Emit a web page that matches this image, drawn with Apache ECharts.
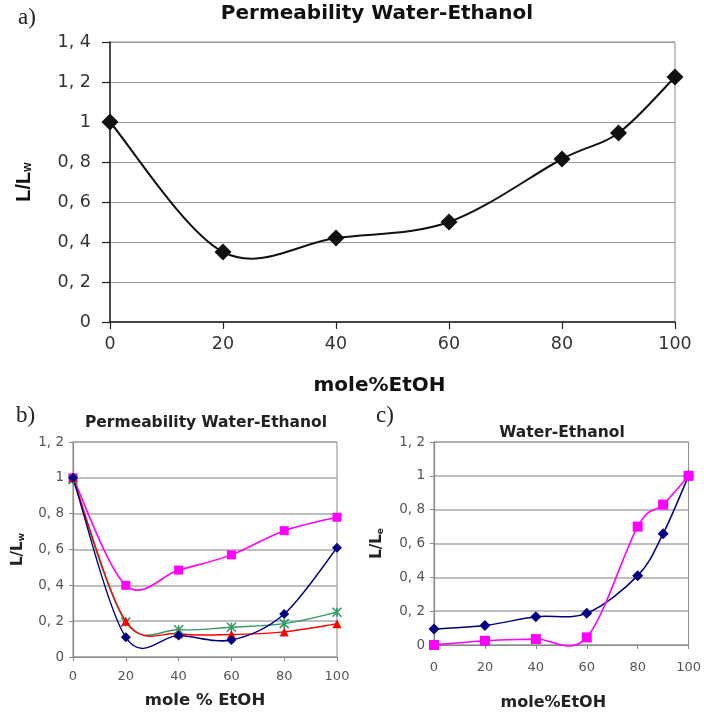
<!DOCTYPE html>
<html>
<head>
<meta charset="utf-8">
<script src="https://cdn.jsdelivr.net/npm/echarts@6/dist/echarts.min.js"></script>
<style>
html,body{margin:0;padding:0;background:#fff;}
#chart{width:704px;height:712px;}
</style>
</head>
<body>
<div id="chart"></div>
<script>
// ---------- data ----------
var xTicks = [0, 20, 40, 60, 80, 100];

// panel a
var aX = [0, 20, 40, 60, 80, 90, 100];
var aY = [1.0, 0.35, 0.42, 0.50, 0.815, 0.945, 1.225];

// panel b
var bX = [0, 20, 40, 60, 80, 100];
var bMagenta = [1.0, 0.40, 0.485, 0.57, 0.705, 0.78];
var bNavy    = [1.0, 0.11, 0.12, 0.095, 0.24, 0.61];
var bRed     = [1.0, 0.20, 0.13, 0.125, 0.14, 0.185];
var bGreen   = [0.99, 0.195, 0.152, 0.166, 0.186, 0.25];

// panel c
var cX = [0, 20, 40, 60, 80, 90, 100];
var cNavy    = [0.095, 0.115, 0.167, 0.188, 0.41, 0.658, 1.0];
var cMagenta = [0.0, 0.025, 0.035, 0.045, 0.70, 0.83, 1.0];

function pairs(xs, ys) { return xs.map(function (x, i) { return [x, ys[i]]; }); }
function fmt(v) {
  if (v === 0) return '0';
  var s = String(Math.round(v * 10) / 10);
  return s.replace('.', ', ');
}

var NAVY = '#000080', MAG = '#ff00ff', RED = '#ff0000', GREEN = '#339966';
var SANS = 'Liberation Sans, Arial, sans-serif';
var DJV = 'DejaVu Sans, Verdana, sans-serif';
var SERIF = 'Liberation Serif, Times New Roman, serif';
var STAR = 'path://M0,0L10,10M10,0L0,10M5,0L5,10';

// smoothed connecting line (Excel-like cardinal spline), each data item draws one segment
function curve(xs, ys, gi, color, width, z) {
  var n = xs.length;
  return {
    type: 'custom', coordinateSystem: 'cartesian2d', xAxisIndex: gi, yAxisIndex: gi,
    data: pairs(xs, ys), encode: {x: 0, y: 1}, silent: true, z: z || 2,
    renderItem: function (params, api) {
      var i = params.dataIndex;
      if (i >= n - 1) return null;
      function P(k) { k = Math.max(0, Math.min(n - 1, k)); return api.coord([xs[k], ys[k]]); }
      var p0 = P(i - 1), p1 = P(i), p2 = P(i + 1), p3 = P(i + 2);
      var t = 1 / 6;
      return {
        type: 'bezierCurve',
        shape: {
          x1: p1[0], y1: p1[1], x2: p2[0], y2: p2[1],
          cpx1: p1[0] + (p2[0] - p0[0]) * t, cpy1: p1[1] + (p2[1] - p0[1]) * t,
          cpx2: p2[0] - (p3[0] - p1[0]) * t, cpy2: p2[1] - (p3[1] - p1[1]) * t
        },
        style: {stroke: color, lineWidth: width, fill: 'none'}
      };
    }
  };
}
function marks(xs, ys, gi, symbol, size, itemStyle, z) {
  itemStyle.opacity = 1;
  return {
    type: 'scatter', xAxisIndex: gi, yAxisIndex: gi, data: pairs(xs, ys),
    symbol: symbol, symbolSize: size, itemStyle: itemStyle, z: z || 5, silent: true
  };
}

var chart = echarts.init(document.getElementById('chart'), null, {renderer: 'canvas'});

var gridBorder = {show: true, borderColor: '#8a8a8a', borderWidth: 1, backgroundColor: 'transparent'};

var option = {
  animation: false,
  backgroundColor: '#ffffff',
  grid: [
    Object.assign({left: 110, top: 42, width: 565, height: 280}, gridBorder),
    Object.assign({left: 73, top: 442, width: 264, height: 215}, gridBorder),
    Object.assign({left: 434, top: 442, width: 258, height: 204}, gridBorder)
  ],
  xAxis: [
    {
      gridIndex: 0, type: 'value', min: 0, max: 100, interval: 20,
      axisLine: {show: true, onZero: false, lineStyle: {color: '#222', width: 1.5}},
      axisTick: {show: true, length: 7, lineStyle: {color: '#222', width: 1.2}},
      axisLabel: {fontFamily: DJV, fontSize: 17.5, color: '#333', margin: 13},
      splitLine: {show: false},
      name: 'mole%EtOH', nameLocation: 'middle', nameGap: 54,
      nameTextStyle: {fontFamily: DJV, fontSize: 20, fontWeight: 'bold', color: '#111', padding: [0, 26, 0, 0]}
    },
    {
      gridIndex: 1, type: 'value', min: 0, max: 100, interval: 20,
      axisLine: {show: true, onZero: false, lineStyle: {color: '#888', width: 1.2}},
      axisTick: {show: true, length: 4, lineStyle: {color: '#888'}},
      axisLabel: {fontFamily: DJV, fontSize: 13, color: '#555', margin: 13},
      splitLine: {show: false},
      name: 'mole % EtOH', nameLocation: 'middle', nameGap: 35,
      nameTextStyle: {fontFamily: DJV, fontSize: 16.5, fontWeight: 'bold', color: '#222'}
    },
    {
      gridIndex: 2, type: 'value', min: 0, max: 100, interval: 20,
      axisLine: {show: true, onZero: false, lineStyle: {color: '#888', width: 1.2}},
      axisTick: {show: true, length: 4, lineStyle: {color: '#888'}},
      axisLabel: {fontFamily: DJV, fontSize: 13, color: '#555', margin: 16},
      splitLine: {show: false},
      name: 'mole%EtOH', nameLocation: 'middle', nameGap: 50,
      nameTextStyle: {fontFamily: DJV, fontSize: 16, fontWeight: 'bold', color: '#222', padding: [0, 16, 0, 0]}
    }
  ],
  yAxis: [
    {
      gridIndex: 0, type: 'value', min: 0, max: 1.4, interval: 0.2,
      axisLine: {show: true, onZero: false, lineStyle: {color: '#222', width: 1.5}},
      axisTick: {show: true, length: 8, lineStyle: {color: '#222', width: 1.2}},
      axisLabel: {fontFamily: DJV, fontSize: 17.5, color: '#333', margin: 19, formatter: fmt},
      splitLine: {show: true, lineStyle: {color: '#9a9a9a', width: 1.2}},
      name: 'L/L{s|w}', nameLocation: 'middle', nameGap: 76,
      nameTextStyle: {fontFamily: SANS, fontSize: 20, fontWeight: 'bold', color: '#111',
        rich: {s: {fontFamily: SANS, fontSize: 12, fontWeight: 'bold', color: '#111', verticalAlign: 'bottom', padding: [8, 0, 0, 0]}}}
    },
    {
      gridIndex: 1, type: 'value', min: 0, max: 1.2, interval: 0.2,
      axisLine: {show: true, onZero: false, lineStyle: {color: '#888', width: 1.2}},
      axisTick: {show: true, length: 4, lineStyle: {color: '#888'}},
      axisLabel: {fontFamily: DJV, fontSize: 13.5, color: '#555', margin: 9, formatter: fmt},
      splitLine: {show: true, lineStyle: {color: '#a8a8a8', width: 1.5}},
      name: 'L/L{s|w}', nameLocation: 'middle', nameGap: 47,
      nameTextStyle: {fontFamily: DJV, fontSize: 15, fontWeight: 'bold', color: '#222',
        rich: {s: {fontFamily: DJV, fontSize: 9, fontWeight: 'bold', color: '#222', verticalAlign: 'bottom', padding: [6, 0, 0, 0]}}}
    },
    {
      gridIndex: 2, type: 'value', min: 0, max: 1.2, interval: 0.2,
      axisLine: {show: true, onZero: false, lineStyle: {color: '#888', width: 1.2}},
      axisTick: {show: true, length: 4, lineStyle: {color: '#888'}},
      axisLabel: {fontFamily: DJV, fontSize: 13.5, color: '#555', margin: 9, formatter: fmt},
      splitLine: {show: true, lineStyle: {color: '#a8a8a8', width: 1.5}},
      name: 'L/L{s|e}', nameLocation: 'middle', nameGap: 49,
      nameTextStyle: {fontFamily: DJV, fontSize: 15, fontWeight: 'bold', color: '#222',
        rich: {s: {fontFamily: DJV, fontSize: 9, fontWeight: 'bold', color: '#222', verticalAlign: 'bottom', padding: [6, 0, 0, 0]}}}
    }
  ],
  graphic: [
    {type: 'text', left: 18, top: 6, style: {text: 'a)', font: '23px ' + SERIF, fill: '#222'}},
    {type: 'text', left: 16, top: 404, style: {text: 'b)', font: '23px ' + SERIF, fill: '#222'}},
    {type: 'text', left: 376, top: 404, style: {text: 'c)', font: '23px ' + SERIF, fill: '#222'}},
    {type: 'text', x: 377, y: 14, style: {text: 'Permeability Water-Ethanol', font: 'bold 20px ' + DJV, fill: '#111', align: 'center', verticalAlign: 'middle'}},
    {type: 'text', x: 206, y: 423, style: {text: 'Permeability Water-Ethanol', font: 'bold 15.5px ' + DJV, fill: '#222', align: 'center', verticalAlign: 'middle'}},
    {type: 'text', x: 562, y: 433, style: {text: 'Water-Ethanol', font: 'bold 15.5px ' + DJV, fill: '#222', align: 'center', verticalAlign: 'middle'}}
  ],
  series: [
    curve(aX, aY, 0, '#111', 2),
    marks(aX, aY, 0, 'diamond', 17, {color: '#111'}),

    curve(bX, bMagenta, 1, MAG, 1.6),
    curve(bX, bGreen, 1, GREEN, 1.4),
    curve(bX, bRed, 1, RED, 1.4),
    curve(bX, bNavy, 1, NAVY, 1.4),
    marks(bX, bMagenta, 1, 'rect', 9, {color: MAG}),
    marks(bX, bGreen, 1, STAR, 9, {color: 'none', borderColor: GREEN, borderWidth: 1.6}),
    marks(bX, bRed, 1, 'triangle', 9, {color: RED}),
    marks(bX, bNavy, 1, 'diamond', 10, {color: NAVY}),

    curve(cX, cNavy, 2, NAVY, 1.5),
    curve(cX, cMagenta, 2, MAG, 1.6),
    marks(cX, cNavy, 2, 'diamond', 11, {color: NAVY}),
    marks(cX, cMagenta, 2, 'rect', 10, {color: MAG})
  ]
};
chart.setOption(option);
</script>
</body>
</html>
